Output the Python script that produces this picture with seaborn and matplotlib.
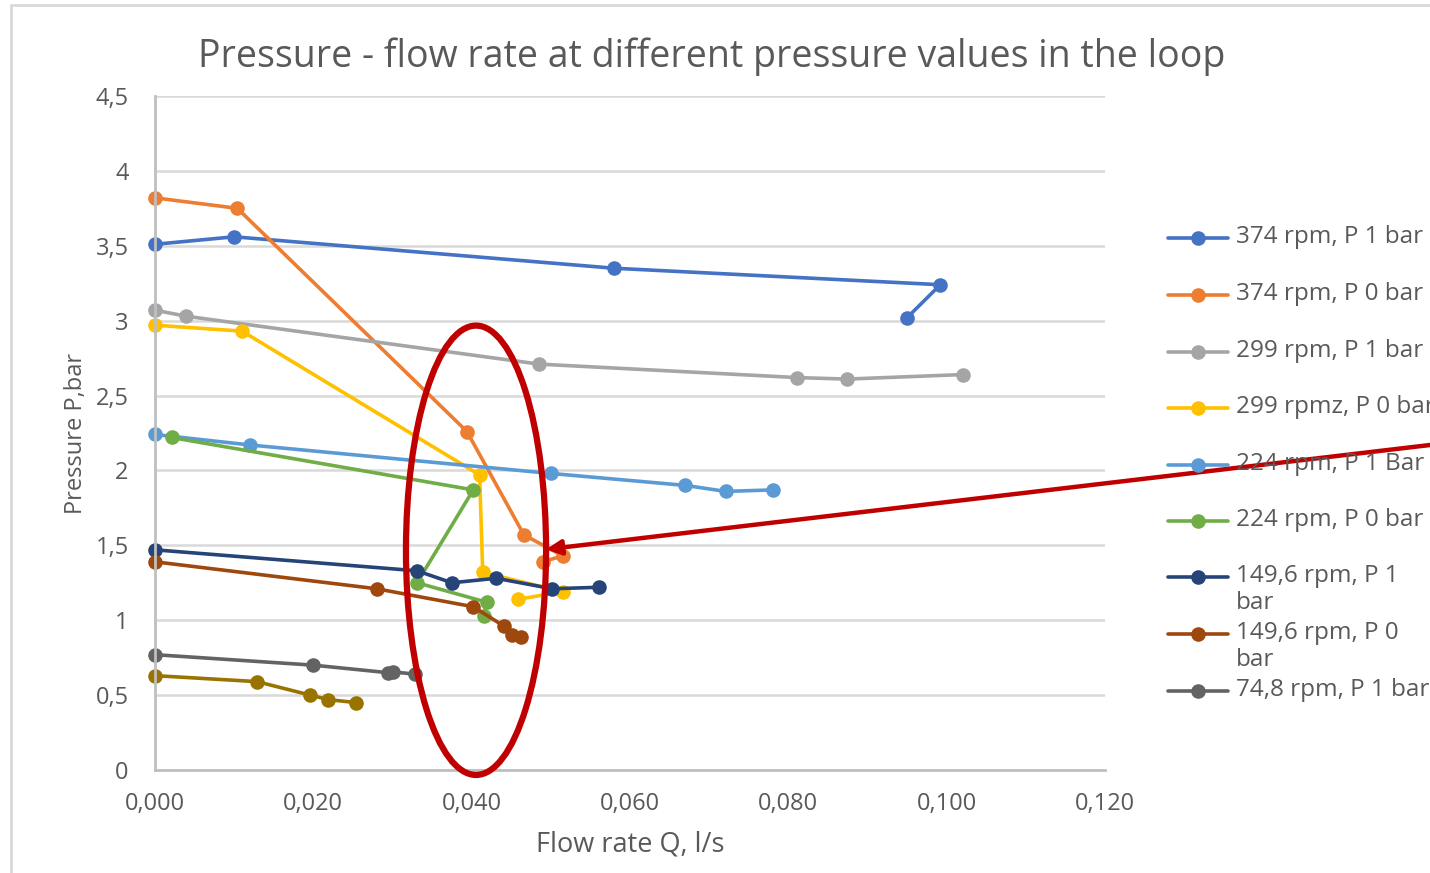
import matplotlib
matplotlib.use("Agg")
import matplotlib.pyplot as plt
from matplotlib.lines import Line2D
from matplotlib.patches import Ellipse
from matplotlib.ticker import FuncFormatter
import pandas as pd
import seaborn as sns

# Series: flow rate Q (l/s) and pressure P (bar), in measurement order
series_names = [
    "374 rpm, P 1 bar", "374 rpm, P 0 bar", "299 rpm, P 1 bar",
    "299 rpmz, P 0 bar", "224 rpm, P 1 Bar", "224 rpm, P 0 bar",
    "149,6 rpm, P 1\nbar", "149,6 rpm, P 0\nbar", "74,8 rpm, P 1 bar",
    "74,8 rpm, P 0 bar",
]
q_374_p1 = [0.000, 0.0100, 0.0580, 0.0992, 0.0950]
p_374_p1 = [3.51, 3.56, 3.35, 3.24, 3.02]
q_374_p0 = [0.000, 0.0104, 0.0394, 0.0466, 0.0515, 0.0490]
p_374_p0 = [3.82, 3.75, 2.26, 1.57, 1.43, 1.39]
q_299_p1 = [0.000, 0.0039, 0.0485, 0.0811, 0.0874, 0.1020]
p_299_p1 = [3.07, 3.03, 2.71, 2.62, 2.61, 2.64]
q_299_p0 = [0.000, 0.0110, 0.0410, 0.0414, 0.0515, 0.0459]
p_299_p0 = [2.97, 2.93, 1.97, 1.32, 1.19, 1.14]
q_224_p1 = [0.000, 0.0120, 0.0500, 0.0670, 0.0721, 0.0780]
p_224_p1 = [2.24, 2.17, 1.98, 1.90, 1.86, 1.87]
q_224_p0 = [0.0021, 0.0402, 0.0331, 0.0419, 0.0415]
p_224_p0 = [2.22, 1.87, 1.25, 1.12, 1.03]
q_150_p1 = [0.000, 0.0331, 0.0375, 0.0431, 0.0502, 0.0561]
p_150_p1 = [1.47, 1.33, 1.25, 1.28, 1.21, 1.22]
q_150_p0 = [0.000, 0.0280, 0.0402, 0.0441, 0.0451, 0.0462]
p_150_p0 = [1.39, 1.21, 1.09, 0.96, 0.90, 0.89]
q_75_p1 = [0.000, 0.0200, 0.0294, 0.0300, 0.0329]
p_75_p1 = [0.77, 0.70, 0.65, 0.655, 0.64]
q_75_p0 = [0.000, 0.0129, 0.0196, 0.0219, 0.0254]
p_75_p0 = [0.63, 0.59, 0.50, 0.47, 0.45]

flows = [q_374_p1, q_374_p0, q_299_p1, q_299_p0, q_224_p1,
         q_224_p0, q_150_p1, q_150_p0, q_75_p1, q_75_p0]
pressures = [p_374_p1, p_374_p0, p_299_p1, p_299_p0, p_224_p1,
             p_224_p0, p_150_p1, p_150_p0, p_75_p1, p_75_p0]

colors = ["#4472C4", "#ED7D31", "#A5A5A5", "#FFC000", "#5B9BD5",
          "#70AD47", "#264478", "#9E480E", "#636363", "#997300"]

y_ticks = [0, 0.5, 1, 1.5, 2, 2.5, 3, 3.5, 4, 4.5]
x_ticks = [0.0, 0.02, 0.04, 0.06, 0.08, 0.10, 0.12]

rows = []
for name, qs, ps in zip(series_names, flows, pressures):
    for i, (q, p) in enumerate(zip(qs, ps)):
        rows.append({"series": name, "order": i, "Q": q, "P": p})
df = pd.DataFrame(rows)

sns.set_theme(style="white")
plt.rcParams["font.family"] = ["Open Sans", "DejaVu Sans"]
text_grey = "#595959"

fig = plt.figure(figsize=(14.3, 8.73), dpi=100)
ax = fig.add_axes([155 / 1430, 1 - 770 / 873, 950 / 1430, 674 / 873])

sns.lineplot(
    data=df, x="Q", y="P", hue="series", hue_order=series_names,
    palette=colors, sort=False, estimator=None, marker="o",
    markersize=10.5, markeredgewidth=0, linewidth=2.6, ax=ax,
    legend=False, clip_on=False,
)

ax.set_xlim(0, 0.12)
ax.set_ylim(0, 4.5)
ax.xaxis.set_major_formatter(FuncFormatter(lambda v, _: f"{v:.3f}".replace(".", ",")))
ax.yaxis.set_major_formatter(
    FuncFormatter(lambda v, _: (f"{v:g}").replace(".", ",")))
ax.set_xticks(x_ticks)
ax.set_yticks(y_ticks)
ax.yaxis.grid(True, color="#D9D9D9", linewidth=1.8)
ax.xaxis.grid(False)
ax.set_axisbelow(True)
for side in ("top", "right"):
    ax.spines[side].set_visible(False)
for side in ("left", "bottom"):
    ax.spines[side].set_color("#BFBFBF")
    ax.spines[side].set_linewidth(2)
ax.tick_params(axis="both", length=0, labelsize=17, labelcolor=text_grey)
ax.tick_params(axis="y", pad=19)
ax.tick_params(axis="x", pad=16)

ax.set_xlabel("Flow rate Q, l/s", fontsize=19.5, color=text_grey, labelpad=10)
ax.set_ylabel("Pressure P,bar", fontsize=17, color=text_grey, labelpad=5)
fig.text(712 / 1430, 1 - 57 / 873,
         "Pressure - flow rate at different pressure values in the loop",
         fontsize=27, color=text_grey, ha="center", va="center")

# Legend column at the right of the plot area
legend_y = [238, 295, 352, 408, 465, 521, 577, 634, 691]
for name, col, ypx in zip(series_names[:9], colors[:9], legend_y):
    yf = 1 - ypx / 873
    fig.add_artist(Line2D([1168 / 1430, 1228 / 1430], [yf, yf],
                          transform=fig.transFigure, color=col, lw=2.6))
    fig.add_artist(Line2D([1198 / 1430], [yf], transform=fig.transFigure,
                          color=col, marker="o", markersize=10.5,
                          markeredgewidth=0))
    fig.text(1236 / 1430, 1 - (ypx - 13) / 873, name, fontsize=17.5,
             color=text_grey, ha="left", va="top", linespacing=1.15)

# Highlight of the crossing region
red = "#C00000"
ellipse = Ellipse((0.04055, 1.467), width=0.0177, height=3.0, fill=False,
                  edgecolor=red, linewidth=4.5, clip_on=False, zorder=5)
ax.add_patch(ellipse)
ax.annotate("", xy=(0.0494, 1.473), xycoords="data",
            xytext=(1.0, 1 - 445 / 873), textcoords="figure fraction",
            arrowprops=dict(arrowstyle="-|>", color=red, lw=3.2,
                            mutation_scale=22, shrinkA=0, shrinkB=0),
            annotation_clip=False, zorder=6)

# Outer chart frame
fig.add_artist(Line2D([11 / 1430, 11 / 1430], [0, 1 - 5 / 873],
                      transform=fig.transFigure, color="#D9D9D9", lw=2))
fig.add_artist(Line2D([11 / 1430, 1], [1 - 5 / 873, 1 - 5 / 873],
                      transform=fig.transFigure, color="#D9D9D9", lw=2))

fig.savefig("out.png", dpi=100)
